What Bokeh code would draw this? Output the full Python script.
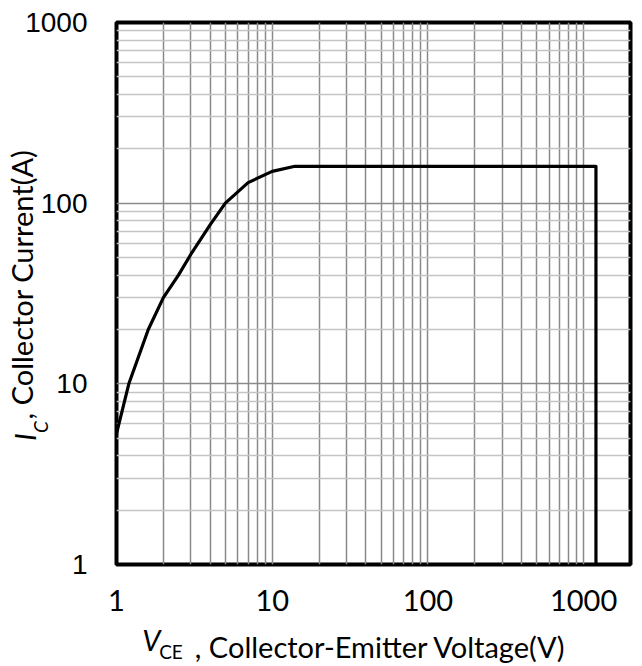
from bokeh.plotting import figure
from bokeh.models import FixedTicker, LinearAxis, Range1d, LinearScale
from bokeh.embed import file_html
from bokeh.resources import INLINE

# ---- data ----
vce = [1, 1.2, 1.6, 2, 2.5, 3, 4, 5, 7, 10, 14, 1200, 1200]
ic = [5.3, 10, 20, 30, 40, 52, 76, 100, 130, 150, 160, 160, 1]

x_major = [1, 10, 100, 1000]
y_major = [1, 10, 100, 1000]
x_minor = [m * d for d in (1, 10, 100, 1000) for m in range(2, 10) if m * d <= 2000]
y_minor = [m * d for d in (1, 10, 100) for m in range(2, 10)]
tick_text = {1: "1", 10: "10", 100: "100", 1000: "1000"}

x_title = ["V", "CE", ", Collector-Emitter Voltage(V)"]
y_title = ["I", "C", ", Collector Current(A)"]

W, H = 636, 666
FL, FR, FT, FB = 116, 6, 22, 102          # borders around the plot frame
FW, FH = W - FL - FR, H - FT - FB         # frame size in px

p = figure(width=W, height=H, x_axis_type="log", y_axis_type="log",
           x_range=(1, 2000), y_range=(1, 1000),
           output_backend="svg", toolbar_location=None,
           min_border_left=FL, min_border_right=FR,
           min_border_top=FT, min_border_bottom=FB)

p.outline_line_color = "black"
p.outline_line_width = 4

p.xaxis.ticker = FixedTicker(ticks=x_major, minor_ticks=x_minor)
p.yaxis.ticker = FixedTicker(ticks=y_major, minor_ticks=y_minor)
p.xaxis.major_label_overrides = tick_text
p.yaxis.major_label_overrides = tick_text


def plain(ax):
    ax.axis_line_color = None
    ax.major_tick_line_color = None
    ax.minor_tick_line_color = None
    ax.major_tick_out = 0
    ax.major_tick_in = 0
    ax.minor_tick_out = 0
    ax.minor_tick_in = 0
    ax.major_label_text_color = "black"


for ax in (p.xaxis, p.yaxis):
    plain(ax)

p.xaxis.major_label_text_font = "Lato"
p.xaxis.major_label_text_font_size = "29px"
p.xaxis.major_label_standoff = 25
p.yaxis.major_label_text_font = "Liberation Sans"
p.yaxis.major_label_text_font_size = "28px"
p.yaxis.major_label_standoff = 29

p.xgrid.grid_line_color = "#8a8a8a"
p.xgrid.grid_line_width = 1.5
p.xgrid.minor_grid_line_color = "#8a8a8a"
p.xgrid.minor_grid_line_width = 1.5
p.ygrid.grid_line_color = "#8a8a8a"
p.ygrid.grid_line_width = 1.5
p.ygrid.minor_grid_line_color = "#c4c4c4"
p.ygrid.minor_grid_line_width = 1.5

p.line(vce, ic, line_color="black", line_width=3.2, line_join="round")

# ---- composite axis titles: label-only axes stacked in the side panels ----
p.extra_x_ranges = {"px": Range1d(0, FW)}
p.extra_y_ranges = {"py": Range1d(0, FH)}
p.extra_x_scales = {"px": LinearScale()}
p.extra_y_scales = {"py": LinearScale()}


def title_axis(side, text, center, standoff, size, style):
    if side == "below":
        ax = LinearAxis(x_range_name="px")
    else:
        ax = LinearAxis(y_range_name="py")
        ax.major_label_orientation = "parallel"
    ax.ticker = FixedTicker(ticks=[center], minor_ticks=[])
    ax.major_label_overrides = {center: text}
    plain(ax)
    ax.major_label_standoff = standoff
    ax.major_label_text_font = "Lato"
    ax.major_label_text_font_size = size
    ax.major_label_text_font_style = style
    p.add_layout(ax, side)


# x title pieces: center along frame (px from frame left), standoff in the stack
title_axis("below", x_title[0], 35, 8, "29px", "italic")
title_axis("below", x_title[1], 54.5, -20, "19px", "normal")
title_axis("below", x_title[2], 264, -37, "29px", "normal")
# y title pieces: center along frame (px from frame bottom)
title_axis("left", y_title[1], 137.5, -29, "19px", "italic")
title_axis("left", y_title[0], 127.5, -19, "29px", "italic")
title_axis("left", y_title[2], 280, -35, "29px", "normal")

open("out.html", "w").write(file_html(p, INLINE))
